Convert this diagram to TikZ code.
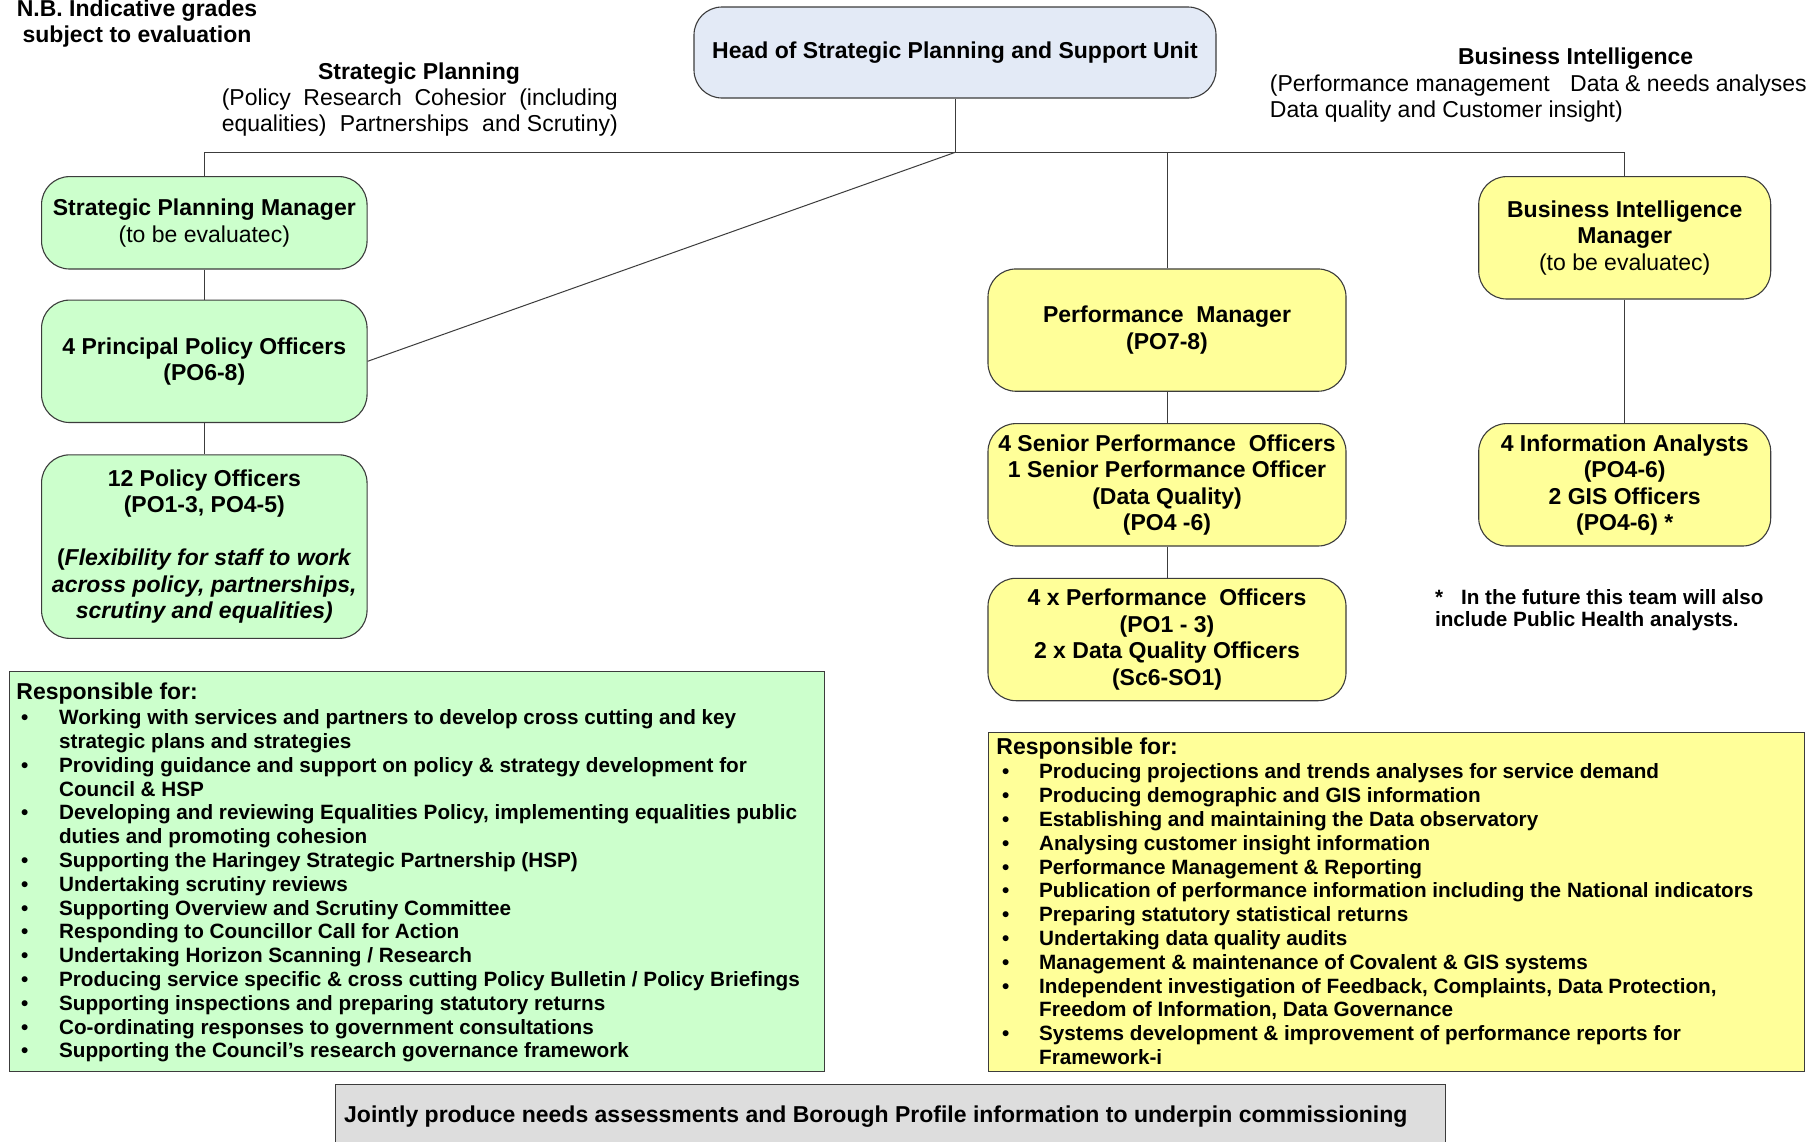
\documentclass[tikz,border=0pt]{standalone}
\usepackage{fontspec}
\setmainfont{Liberation Sans}
\definecolor{gfill}{RGB}{204,255,204}
\definecolor{yfill}{RGB}{255,255,153}
\definecolor{bfill}{RGB}{227,234,246}
\definecolor{grfill}{RGB}{221,221,221}
\definecolor{edge}{RGB}{60,60,60}
\begin{document}
\begin{tikzpicture}[x=1pt,y=-1pt,
  box/.style={draw=edge, line width=1.1pt, rounded corners=28pt, align=center, inner sep=2pt,
     font=\fontsize{23}{26.5}\selectfont\bfseries},
  gbox/.style={box, fill=gfill, minimum width=325.5pt},
  ybox/.style={box, fill=yfill},
  conn/.style={draw=edge, line width=1pt},
  txt/.style={inner sep=0pt, font=\fontsize{23}{26.5}\selectfont},
  btxt/.style={inner sep=0pt, font=\fontsize{23}{26.5}\selectfont\bfseries},
  stxt/.style={inner sep=0pt, font=\fontsize{20.7}{23.8}\selectfont\bfseries},
  panel/.style={draw=edge, line width=1.1pt, anchor=north west, inner sep=0pt}]
\useasboundingbox (0,0) rectangle (1810,1141);
\fill[white] (0,0) rectangle (1810,1141);

% top texts
\node[btxt, align=center] (nb) at (137,23.5) {N.B. Indicative grades\\subject to evaluation};
\node[btxt] (spt) at (419,73.9) {Strategic Planning};
\node[txt, anchor=west] (spl1) at (221.6,99.3) {\hbox to 396pt{(Policy\hfill Research\hfill Cohesior\hfill (including}};
\node[txt, anchor=west] (spl2) at (221.6,125.8) {\hbox to 396pt{equalities)\hfill Partnerships\hfill and Scrutiny)}};
\node[btxt] (bit) at (1575.6,58.9) {Business Intelligence};
\node[txt, anchor=west] (bil1) at (1269.7,85.4) {(Performance management\hspace{14pt} Data \& needs analyses};
\node[txt, anchor=west] (bil2) at (1269.7,112) {Data quality and Customer insight)};

% boxes
\node[box, fill=bfill, minimum width=522pt, minimum height=91pt] (head) at (955,52.5) {Head of Strategic Planning and Support Unit};
\node[gbox, minimum height=92.4pt] (spm) at (204.3,222.8) {Strategic Planning Manager\\{\mdseries (to be evaluatec)}};
\node[gbox, minimum height=122.4pt] (ppo) at (204.3,361.3) {4 Principal Policy Officers\\(PO6-8)};
\node[gbox, minimum height=183.5pt] (po) at (204.3,546.6) {12 Policy Officers\\(PO1-3, PO4-5)\\[26.5pt](\textit{Flexibility for staff to work}\\\textit{across policy, partnerships,}\\\textit{scrutiny and equalities)}};
\node[ybox, minimum width=358pt, minimum height=122.3pt] (pm) at (1167,330.1) {Performance\ \ Manager\\(PO7-8)};
\node[ybox, minimum width=358pt, minimum height=122.4pt] (spo) at (1167,484.8) {4 Senior Performance\ \ Officers\\1 Senior Performance Officer\\(Data Quality)\\(PO4 -6)};
\node[ybox, minimum width=358pt, minimum height=122.4pt] (perfo) at (1167,639.5) {4 x Performance\ \ Officers\\(PO1 - 3)\\2 x Data Quality Officers\\(Sc6-SO1)};
\node[ybox, minimum width=292pt, minimum height=122.4pt] (bim) at (1624.7,237.8) {Business Intelligence\\Manager\\{\mdseries (to be evaluatec)}};
\node[ybox, minimum width=292pt, minimum height=122.4pt] (ia) at (1624.7,484.8) {4 Information Analysts\\(PO4-6)\\2 GIS Officers\\(PO4-6) *};

% connectors
\coordinate (hy) at (0,152.4);
\coordinate (j) at (head.south |- hy);
\draw[conn] (head.south) -- (j);
\draw[conn] (spm.north) -- (spm.north |- j) -- (bim.north |- j) -- (bim.north);
\draw[conn] (pm.north) -- (pm.north |- j);
\draw[conn] (j) -- (ppo.east);
\draw[conn] (spm.south) -- (ppo.north);
\draw[conn] (ppo.south) -- (po.north);
\draw[conn] (pm.south) -- (spo.north);
\draw[conn] (spo.south) -- (perfo.north);
\draw[conn] (bim.south) -- (ia.north);

% footnote
\node[stxt, anchor=west] (fn1) at (1434.8,596.6) {*\hspace{18pt}In the future this team will also};
\node[stxt, anchor=west] (fn2) at (1434.8,620.9) {include Public Health analysts.};

% responsibility panels
\node[panel, fill=gfill, minimum width=815pt, minimum height=400.6pt] (gresp) at (9.2,670.6) {};
\node[btxt, anchor=base west] (ghead) at (16.2,699.5) {Responsible for:};
\node[stxt, anchor=base west] (glist) at (20.8,724.6) {\begin{tabular}[t]{@{}p{38.1pt}@{}l@{}}
\textbullet & Working with services and partners to develop cross cutting and key\\
 & strategic plans and strategies\\
\textbullet & Providing guidance and support on policy \& strategy development for\\
 & Council \& HSP\\
\textbullet & Developing and reviewing Equalities Policy, implementing equalities public\\
 & duties and promoting cohesion\\
\textbullet & Supporting the Haringey Strategic Partnership (HSP)\\
\textbullet & Undertaking scrutiny reviews\\
\textbullet & Supporting Overview and Scrutiny Committee\\
\textbullet & Responding to Councillor Call for Action\\
\textbullet & Undertaking Horizon Scanning / Research\\
\textbullet & Producing service specific \& cross cutting Policy Bulletin / Policy Briefings\\
\textbullet & Supporting inspections and preparing statutory returns\\
\textbullet & Co-ordinating responses to government consultations\\
\textbullet & Supporting the Council’s research governance framework
\end{tabular}};

\node[panel, fill=yfill, minimum width=816pt, minimum height=339.4pt] (yresp) at (988,731.8) {};
\node[btxt, anchor=base west] (yhead) at (996.2,754.3) {Responsible for:};
\node[stxt, anchor=base west] (ylist) at (1002,778.9) {\begin{tabular}[t]{@{}p{36.9pt}@{}l@{}}
\textbullet & Producing projections and trends analyses for service demand\\
\textbullet & Producing demographic and GIS information\\
\textbullet & Establishing and maintaining the Data observatory\\
\textbullet & Analysing customer insight information\\
\textbullet & Performance Management \& Reporting\\
\textbullet & Publication of performance information including the National indicators\\
\textbullet & Preparing statutory statistical returns\\
\textbullet & Undertaking data quality audits\\
\textbullet & Management \& maintenance of Covalent \& GIS systems\\
\textbullet & Independent investigation of Feedback, Complaints, Data Protection,\\
 & Freedom of Information, Data Governance\\
\textbullet & Systems development \& improvement of performance reports for\\
 & Framework-i
\end{tabular}};

% bottom panel
\node[panel, fill=grfill, minimum width=1110.5pt, minimum height=90pt] (joint) at (334.7,1084) {};
\node[btxt, anchor=west] (jtxt) at (344,1116.3) {Jointly produce needs assessments and Borough Profile information to underpin commissioning};
\end{tikzpicture}
\end{document}
